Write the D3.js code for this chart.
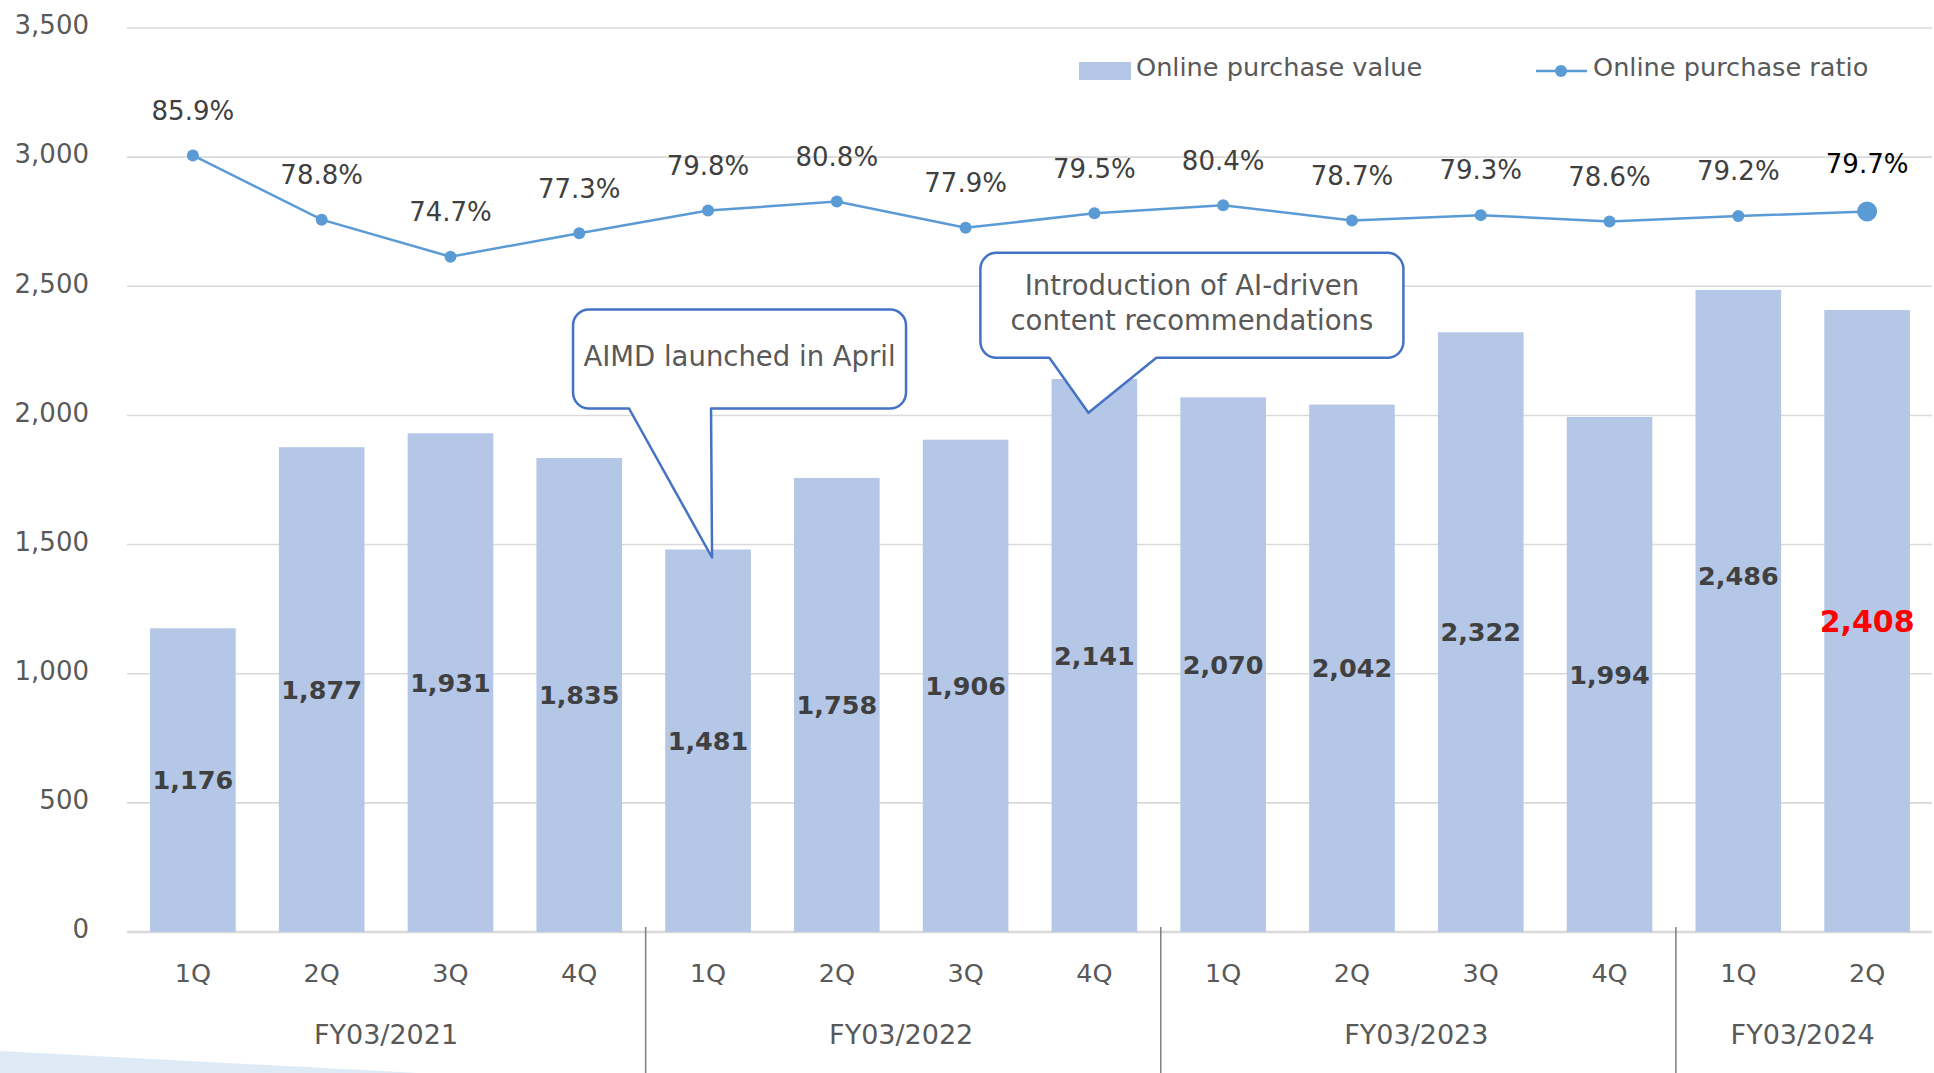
<!DOCTYPE html>
<html>
<head>
<meta charset="utf-8">
<script src="https://cdn.jsdelivr.net/npm/d3@7"></script>
<style>
  html, body { margin: 0; padding: 0; background: #fff; }
  svg { display: block; font-family: "DejaVu Sans", Verdana, sans-serif; }
</style>
</head>
<body>
<div id="chart"></div>
<script>
// data
var quarters = ["1Q", "2Q", "3Q", "4Q", "1Q", "2Q", "3Q", "4Q", "1Q", "2Q", "3Q", "4Q", "1Q", "2Q"];
var fiscalYears = ["FY03/2021", "FY03/2022", "FY03/2023", "FY03/2024"];
var yearOfQuarter = [0, 0, 0, 0, 1, 1, 1, 1, 2, 2, 2, 2, 3, 3];
var purchaseValue = [1176, 1877, 1931, 1835, 1481, 1758, 1906, 2141, 2070, 2042, 2322, 1994, 2486, 2408];
var purchaseRatio = [85.9, 78.8, 74.7, 77.3, 79.8, 80.8, 77.9, 79.5, 80.4, 78.7, 79.3, 78.6, 79.2, 79.7];
var yTicks = [0, 500, 1000, 1500, 2000, 2500, 3000, 3500];
var legendLabels = ["Online purchase value", "Online purchase ratio"];

var W = 1934, H = 1073;
var plotLeft = 128.5, plotRight = 1931.5, plotTop = 28, plotBase = 932;

var barColor = "#b4c7e7", lineColor = "#5b9bd5", grid = "#d9d9d9",
    axisText = "#595959", labelText = "#404040", calloutStroke = "#4472c4";

var ids = quarters.map(function(d, i) { return i; });

var x = d3.scaleBand()
  .domain(ids)
  .range([plotLeft, plotRight])
  .paddingInner(0.335)
  .paddingOuter(0.1675);

var y = d3.scaleLinear().domain([0, 3500]).range([plotBase, plotTop]);
var y2 = d3.scaleLinear().domain([0, 100]).range([plotBase, plotTop]);

var svg = d3.select("#chart").append("svg")
  .attr("width", W)
  .attr("height", H);

// decorative wedge bottom-left
svg.append("path")
  .attr("d", "M0," + (H - 22) + "L418," + H + "L0," + H + "Z")
  .attr("fill", "#deebf7");

// gridlines
svg.append("g").selectAll("line")
  .data(yTicks)
  .enter().append("line")
  .attr("x1", 127).attr("x2", 1932)
  .attr("y1", function(d) { return y(d); })
  .attr("y2", function(d) { return y(d); })
  .attr("stroke", grid)
  .attr("stroke-width", function(d) { return d === 0 ? 2.5 : 1.6; });

// y axis labels
var yAxis = d3.axisLeft(y).tickValues(yTicks).tickSize(0).tickPadding(0)
  .tickFormat(d3.format(","));
svg.append("g")
  .attr("transform", "translate(89,0)")
  .call(yAxis)
  .call(function(g) { g.select(".domain").remove(); })
  .selectAll("text")
  .attr("font-size", 26)
  .attr("font-family", "DejaVu Sans, sans-serif")
  .attr("fill", axisText)
  .attr("dy", "0.22em");

// bars
svg.append("g").selectAll("rect")
  .data(purchaseValue)
  .enter().append("rect")
  .attr("x", function(d, i) { return x(i); })
  .attr("width", x.bandwidth())
  .attr("y", function(d) { return y(d); })
  .attr("height", function(d) { return plotBase - y(d); })
  .attr("fill", barColor);

// bar value labels (middle of bar); 1Q FY03/2024 nudged up like the original
var last = purchaseValue.length - 1;
svg.append("g").selectAll("text")
  .data(purchaseValue)
  .enter().append("text")
  .attr("x", function(d, i) { return x(i) + x.bandwidth() / 2; })
  .attr("y", function(d, i) { return (y(d) + plotBase) / 2 + (i === last - 1 ? -35 : 0); })
  .attr("dy", "0.36em")
  .attr("text-anchor", "middle")
  .attr("font-weight", "bold")
  .attr("font-size", function(d, i) { return i === last ? 30 : 25.5; })
  .attr("fill", function(d, i) { return i === last ? "#ff0000" : labelText; })
  .text(function(d) { return d3.format(",")(d); });

// ratio line
var line = d3.line()
  .x(function(d, i) { return x(i) + x.bandwidth() / 2; })
  .y(function(d) { return y2(d); });

svg.append("path")
  .datum(purchaseRatio)
  .attr("d", line)
  .attr("fill", "none")
  .attr("stroke", lineColor)
  .attr("stroke-width", 2.5);

svg.append("g").selectAll("circle")
  .data(purchaseRatio)
  .enter().append("circle")
  .attr("cx", function(d, i) { return x(i) + x.bandwidth() / 2; })
  .attr("cy", function(d) { return y2(d); })
  .attr("r", function(d, i) { return i === last ? 10 : 6; })
  .attr("fill", lineColor);

svg.append("g").selectAll("text")
  .data(purchaseRatio)
  .enter().append("text")
  .attr("x", function(d, i) { return x(i) + x.bandwidth() / 2; })
  .attr("y", function(d, i) { return y2(d) - (i === last ? 48 : 45); })
  .attr("dy", "0.36em")
  .attr("text-anchor", "middle")
  .attr("font-size", 26)
  .attr("fill", function(d, i) { return i === last ? "#000" : labelText; })
  .text(function(d) { return d.toFixed(1) + "%"; });

// category axis: quarters
svg.append("g").selectAll("text")
  .data(quarters)
  .enter().append("text")
  .attr("x", function(d, i) { return x(i) + x.bandwidth() / 2; })
  .attr("y", 973)
  .attr("dy", "0.36em")
  .attr("text-anchor", "middle")
  .attr("font-size", 25.5)
  .attr("fill", axisText)
  .text(function(d) { return d; });

// fiscal year labels + separators
svg.append("g").selectAll("text")
  .data(fiscalYears)
  .enter().append("text")
  .attr("x", function(d, k) {
    var idx = ids.filter(function(i) { return yearOfQuarter[i] === k; });
    var a = x(idx[0]), b = x(idx[idx.length - 1]) + x.bandwidth();
    return (a + b) / 2;
  })
  .attr("y", 1034)
  .attr("dy", "0.36em")
  .attr("text-anchor", "middle")
  .attr("font-size", 27)
  .attr("fill", axisText)
  .text(function(d) { return d; });

var seps = ids.filter(function(i) { return i > 0 && yearOfQuarter[i] !== yearOfQuarter[i - 1]; });
svg.append("g").selectAll("line")
  .data(seps)
  .enter().append("line")
  .attr("x1", function(i) { return x(i) - (x.step() - x.bandwidth()) / 2 + 2; })
  .attr("x2", function(i) { return x(i) - (x.step() - x.bandwidth()) / 2 + 2; })
  .attr("y1", 927).attr("y2", H)
  .attr("stroke", "#7f7f7f")
  .attr("stroke-width", 1.5);

// legend
var lg = svg.append("g");
lg.append("rect")
  .attr("x", 1079).attr("y", 62).attr("width", 52).attr("height", 18)
  .attr("fill", barColor);
lg.append("text")
  .attr("x", 1136).attr("y", 67).attr("dy", "0.36em")
  .attr("font-size", 25.6).attr("fill", axisText)
  .text(legendLabels[0]);
lg.append("line")
  .attr("x1", 1536).attr("x2", 1587).attr("y1", 71).attr("y2", 71)
  .attr("stroke", lineColor).attr("stroke-width", 2.5);
lg.append("circle")
  .attr("cx", 1561).attr("cy", 71).attr("r", 6)
  .attr("fill", lineColor);
lg.append("text")
  .attr("x", 1593).attr("y", 67).attr("dy", "0.36em")
  .attr("font-size", 25.6).attr("fill", axisText)
  .text(legendLabels[1]);

// callouts: tip anchored to a bar (index, value), box laid out relative to tip
var notes = [
  { i: 4, v: 1450, dx: 4, box: [-139, -248, 194, -149], base: [-83, -1],
    lines: ["AIMD launched in April"] },
  { i: 7, v: 2010, dx: -6, box: [-108, -160, 315, -55], base: [-39, 68],
    lines: ["Introduction of AI-driven", "content recommendations"] }
];

function calloutPath(tx, ty, n) {
  var r = 16;
  var x0 = tx + n.box[0], y0 = ty + n.box[1], x1 = tx + n.box[2], y1 = ty + n.box[3];
  var b0 = tx + n.base[0], b1 = tx + n.base[1];
  return "M" + (x0 + r) + "," + y0 +
    "H" + (x1 - r) + "A" + r + "," + r + " 0 0 1 " + x1 + "," + (y0 + r) +
    "V" + (y1 - r) + "A" + r + "," + r + " 0 0 1 " + (x1 - r) + "," + y1 +
    "H" + b1 + "L" + tx + "," + ty + "L" + b0 + "," + y1 +
    "H" + (x0 + r) + "A" + r + "," + r + " 0 0 1 " + x0 + "," + (y1 - r) +
    "V" + (y0 + r) + "A" + r + "," + r + " 0 0 1 " + (x0 + r) + "," + y0 + "Z";
}

notes.forEach(function(n) {
  var tx = x(n.i) + x.bandwidth() / 2 + n.dx, ty = y(n.v);
  var g = svg.append("g");
  g.append("path")
    .attr("d", calloutPath(tx, ty, n))
    .attr("fill", "#fff")
    .attr("stroke", calloutStroke)
    .attr("stroke-width", 2.5)
    .attr("stroke-linejoin", "round");
  var cx = tx + (n.box[0] + n.box[2]) / 2;
  var cy = ty + (n.box[1] + n.box[3]) / 2 - 2.5;
  var lh = 35;
  g.selectAll("text")
    .data(n.lines)
    .enter().append("text")
    .attr("x", cx)
    .attr("y", function(d, k) { return cy + (k - (n.lines.length - 1) / 2) * lh; })
    .attr("dy", "0.36em")
    .attr("text-anchor", "middle")
    .attr("font-size", 27.5)
    .attr("fill", axisText)
    .text(function(d) { return d; });
});
</script>
</body>
</html>
